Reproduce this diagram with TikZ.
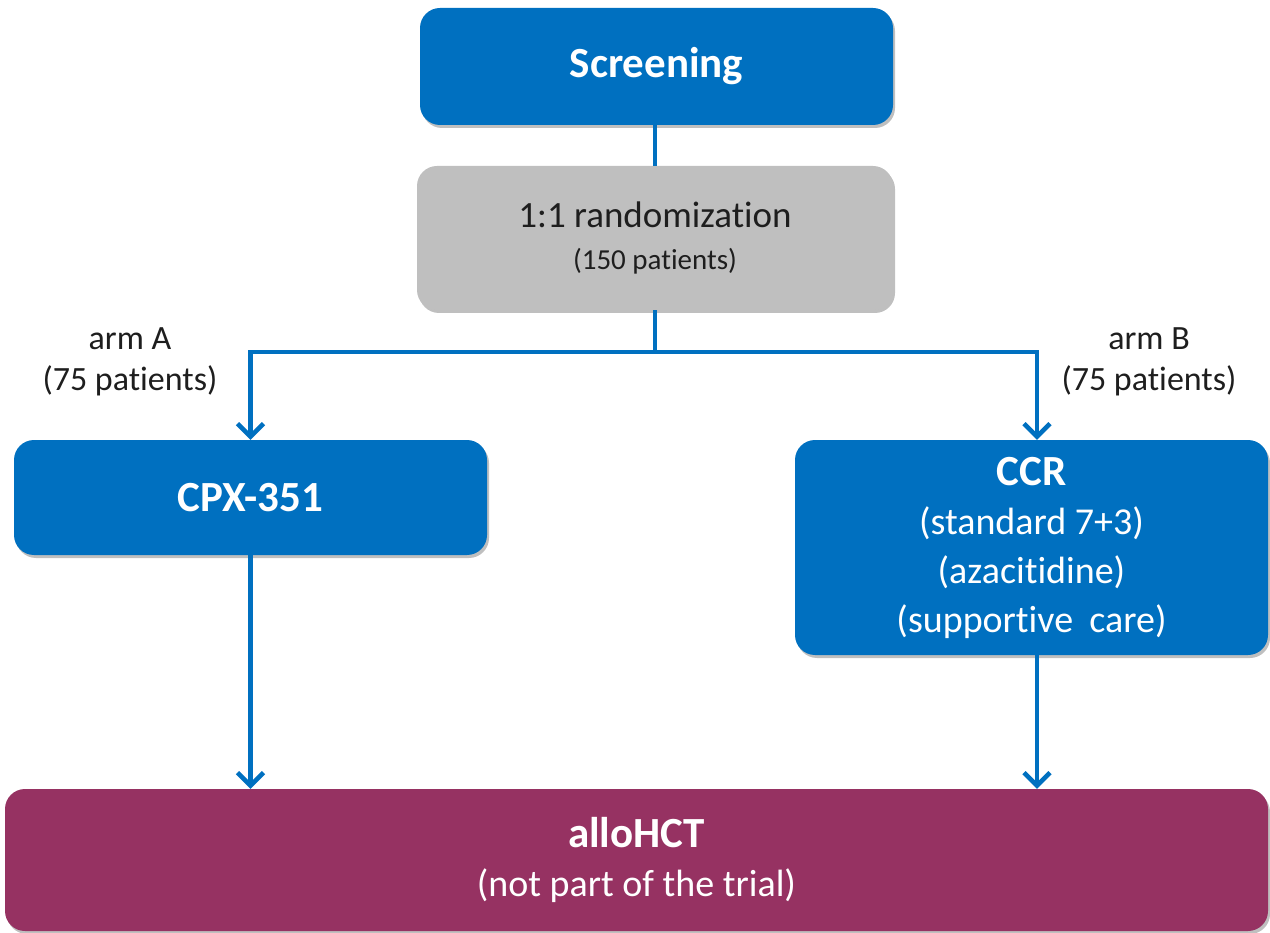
\documentclass[tikz,border=0pt]{standalone}
\usepackage{fontspec}
\setmainfont{Carlito}[Ligatures=NoCommon]
\usetikzlibrary{arrows.meta,shadows}
\definecolor{boxblue}{HTML}{0070C0}
\definecolor{boxgray}{HTML}{BFBFBF}
\definecolor{boxplum}{HTML}{963262}
\definecolor{inkdark}{HTML}{1E1E1E}
\begin{document}
\begin{tikzpicture}[x=1pt,y=-1pt,
  box/.style={rounded corners=20pt, inner sep=0pt, align=center,
    drop shadow={shadow xshift=2pt, shadow yshift=-3pt, opacity=0.25, fill=black}},
  bluebox/.style={box, fill=boxblue, text=white},
  graybox/.style={box, fill=boxgray, text=inkdark},
  plumbox/.style={box, fill=boxplum, text=white},
  titlefont/.style={font=\fontsize{43}{50}\selectfont\bfseries},
  bodyfont/.style={font=\fontsize{38}{49}\selectfont},
  armlabel/.style={align=center, text=inkdark, font=\fontsize{34}{41}\selectfont},
  link/.style={draw=boxblue, line width=4.5pt},
  arr/.style={link, -{Straight Barb[length=13pt,width=26pt]}}
]
\useasboundingbox (0,0) rectangle (1270,933);

% boxes
\node[bluebox, titlefont, minimum width=473pt, minimum height=117pt]
  (screen) at (656.5,66.5) {Screening};
\node[graybox, font=\fontsize{37}{42}\selectfont, minimum width=476pt, minimum height=144pt]
  (rand) at (655,238) {1:1 randomization\\
  {\fontsize{29}{34}\selectfont (150 patients)}};
\node[bluebox, titlefont, minimum width=473pt, minimum height=115pt]
  (cpx) at (250.5,497.5) {CPX-351};
\node[bluebox, bodyfont, minimum width=473pt, minimum height=215pt]
  (ccr) at (1031.5,547.5) {{\fontsize{43}{49}\selectfont\bfseries CCR}\\
  (standard 7+3)\\ (azacitidine)\\ (supportive\hspace{0.2em} care)};
\node[plumbox, bodyfont, minimum width=1263pt, minimum height=142pt]
  (allo) at (636.5,860) {{\fontsize{43}{49}\selectfont\bfseries alloHCT}\\
  (not part of the trial)};

% arm labels
\node[armlabel] (armA) at (130,362) {arm A\\(75 patients)};
\node[armlabel] (armB) at (1149,362) {arm B\\(75 patients)};

% connectors
\coordinate (split) at ([yshift=-42pt]rand.south);
\coordinate (ccrin) at ([xshift=5.5pt]ccr.north);
\coordinate (ccrout) at ([xshift=5.5pt]ccr.south);
\draw[link] (screen.south -| rand.north) -- (rand.north);
\draw[arr] (rand.south) -- (split) -| (cpx.north);
\draw[arr] (split) -| (ccrin);
\draw[arr] (cpx.south) -- (cpx.south |- allo.north);
\draw[arr] (ccrout) -- (ccrout |- allo.north);
\end{tikzpicture}
\end{document}
